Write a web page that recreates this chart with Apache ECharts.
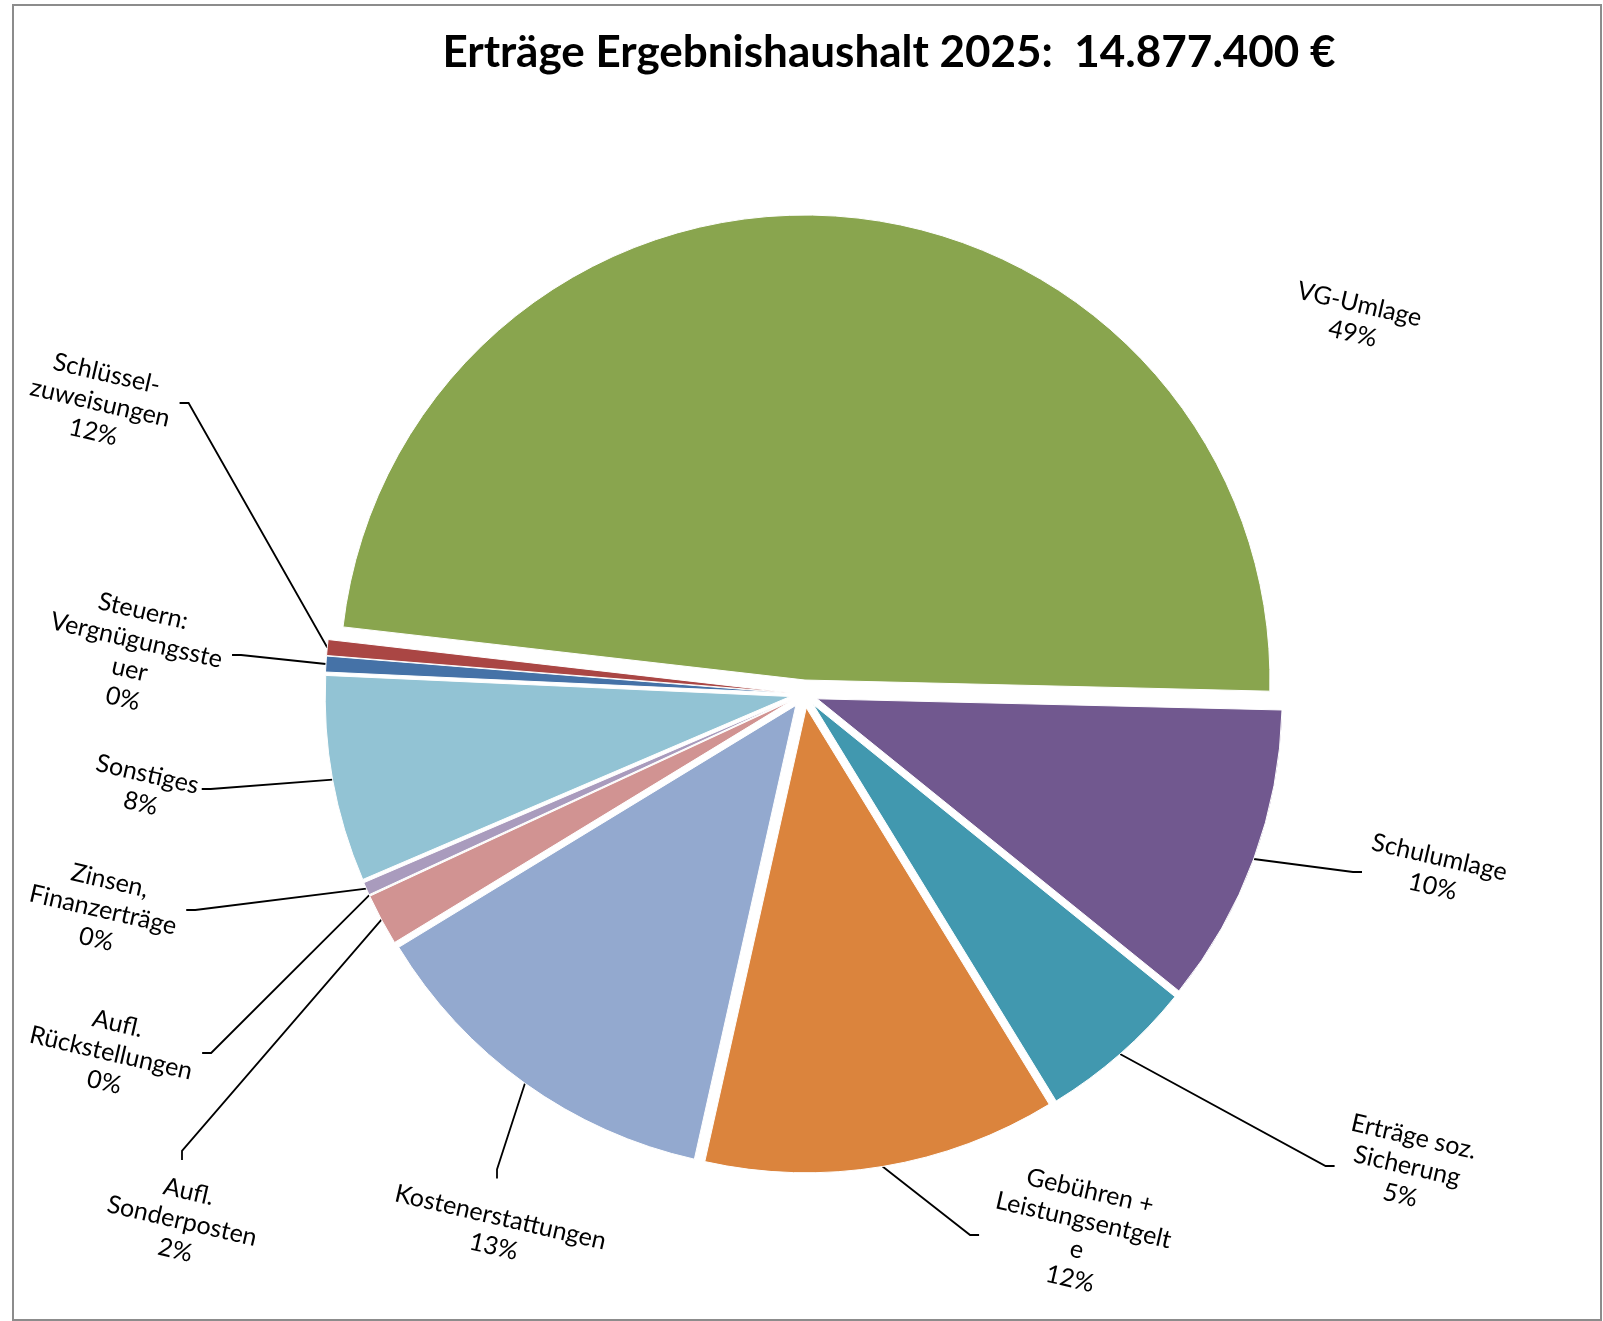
<!DOCTYPE html>
<html>
<head>
<meta charset="utf-8">
<title>Erträge Ergebnishaushalt 2025</title>
<script src="https://cdn.jsdelivr.net/npm/echarts@6/dist/echarts.min.js"></script>
<style>
  html, body { margin: 0; padding: 0; background: #fff; }
  #chart { width: 1603px; height: 1321px; }
</style>
</head>
<body>
<div id="chart"></div>
<script>
// ---- data (clockwise order, starting at the left side of the pie) ----
const categories = [
  'Steuern: Vergnügungssteuer',
  'Schlüsselzuweisungen',
  'VG-Umlage',
  'Schulumlage',
  'Erträge soz. Sicherung',
  'Gebühren + Leistungsentgelte',
  'Kostenerstattungen',
  'Aufl. Sonderposten',
  'Aufl. Rückstellungen',
  'Zinsen, Finanzerträge',
  'Sonstiges'
];
// share of total (%)
const values = [0.55, 0.55, 48.56, 10.43, 5.44, 12.25, 12.79, 1.8, 0.02, 0.45, 7.16];
// label texts as printed in the chart (wrapped)
const labelNames = [
  'Steuern:\nVergnügungsste\nuer',
  'Schlüssel-\nzuweisungen',
  'VG-Umlage',
  'Schulumlage',
  'Erträge soz.\nSicherung',
  'Gebühren +\nLeistungsentgelt\ne',
  'Kostenerstattungen',
  'Aufl.\nSonderposten',
  'Aufl.\nRückstellungen',
  'Zinsen,\nFinanzerträge',
  'Sonstiges'
];
const pctLabels = ['0%', '12%', '49%', '10%', '5%', '12%', '13%', '2%', '0%', '0%', '8%'];
const titleText = 'Erträge Ergebnishaushalt 2025:  14.877.400 €';

// ---- styling / layout ----
const COLORS = ['#4572A7', '#AA4644', '#89A54E', '#71588F', '#4198AF', '#DB843D',
                '#93A9CF', '#D19392', '#B9CD96', '#A99BBD', '#92C3D4'];
const LABEL_POS = [
  [133, 655], [100, 403], [1356, 319], [1436, 872], [1407, 1166], [1080, 1235],
  [497, 1232], [182, 1221], [111, 1053], [103, 910], [144, 789]
];
const SHOW_LEADER = [true, true, false, true, true, true, true, true, true, true, true];
const CENTER = [804, 694];
const RADIUS = 465;
const START_ANGLE = 177.4;
const EXPLODE = 14;   // every slice is pulled out a little

const total = values.reduce((a, b) => a + b, 0);

// one series per slice so that each slice can be pulled out along its own bisector
const series = [];
let cum = 0;
categories.forEach((name, k) => {
  const mid = (START_ANGLE - 360 * (cum + values[k] / 2) / total) * Math.PI / 180;
  cum += values[k];
  series.push({
    type: 'pie',
    name: name,
    center: [CENTER[0] + EXPLODE * Math.cos(mid), CENTER[1] - EXPLODE * Math.sin(mid)],
    radius: RADIUS,
    startAngle: START_ANGLE,
    clockwise: true,
    avoidLabelOverlap: false,
    silent: true,
    emphasis: { disabled: true },
    data: categories.map((n, i) => ({
      name: n,
      value: values[i],
      itemStyle: i === k
        ? { color: COLORS[i], borderColor: '#ffffff', borderWidth: 1 }
        : { color: 'rgba(0,0,0,0)', borderColor: 'rgba(0,0,0,0)', borderWidth: 0 },
      label: { show: i === k },
      labelLine: { show: i === k && SHOW_LEADER[i] }
    })),
    label: {
      position: 'outside',
      formatter: p => labelNames[p.dataIndex] + '\n' + pctLabels[p.dataIndex],
      fontFamily: 'Lato',
      fontSize: 25,
      lineHeight: 30,
      color: '#000',
      align: 'center'
    },
    labelLine: {
      length: 10,
      length2: 9,
      smooth: false,
      lineStyle: { color: '#000', width: 1.8 }
    },
    labelLayout: p => (p.dataIndex === k ? {
      x: LABEL_POS[k][0],
      y: LABEL_POS[k][1],
      rotate: -13,
      align: 'center',
      verticalAlign: 'middle'
    } : {})
  });
});

const chart = echarts.init(document.getElementById('chart'), null, { renderer: 'canvas' });

chart.setOption({
  animation: false,
  backgroundColor: '#ffffff',
  graphic: [
    {
      type: 'rect', silent: true, z: 0,
      shape: { x: 13, y: 5, width: 1588, height: 1315 },
      style: { fill: 'none', stroke: '#8c8c8c', lineWidth: 2 }
    },
    {
      type: 'text', silent: true, z: 10,
      x: 889, y: 53,
      style: {
        text: titleText,
        fontFamily: 'Lato', fontWeight: 'bold', fontSize: 44,
        fill: '#000', align: 'center', verticalAlign: 'middle'
      }
    }
  ],
  series: series
});
</script>
</body>
</html>
